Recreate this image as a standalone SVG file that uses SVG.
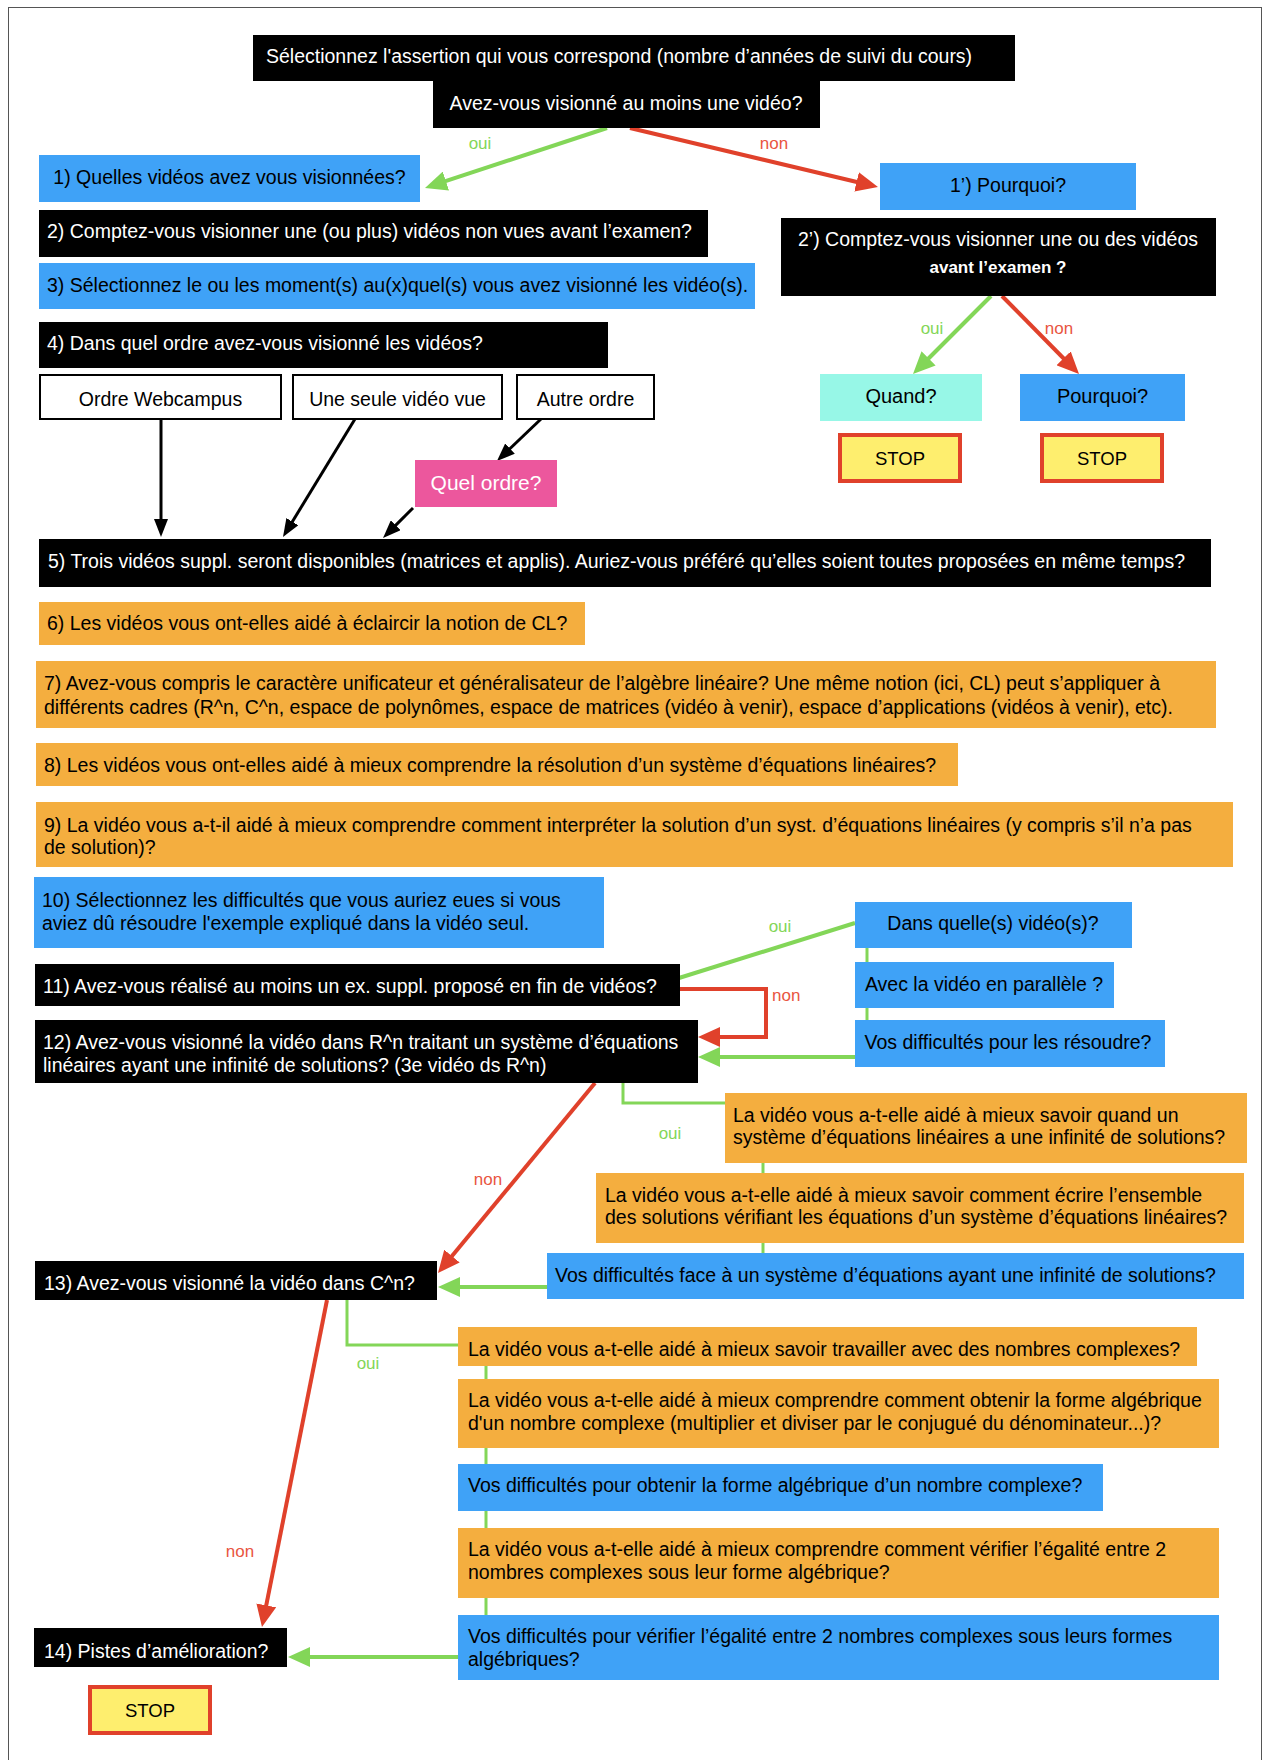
<svg xmlns="http://www.w3.org/2000/svg" width="1264" height="1760" viewBox="0 0 1264 1760">
<style>
text{font-family:"Liberation Sans",Arial,Helvetica,sans-serif;font-size:19.5px;fill:#000}
.w{fill:#fff}
.c{text-anchor:middle}
.blk{fill:#000}
.blu{fill:#3FA2F7}
.org{fill:#F4AE3F}
.mint{fill:#97F7E7}
.pink{fill:#EC579D}
.wb{fill:#fff;stroke:#000;stroke-width:2}
.stop{fill:#FEEE6E;stroke:#E0412B;stroke-width:4}
.g{stroke:#83D658;stroke-width:4;fill:none}
.gt{stroke:#83D658;stroke-width:3;fill:none}
.r{stroke:#E0412B;stroke-width:4;fill:none}
.k{stroke:#000;stroke-width:3;fill:none}
.lg{fill:#83D658;font-size:17px}
.lr{fill:#E9553F;font-size:17px}
</style>
<defs>
<marker id="ag" markerUnits="userSpaceOnUse" markerWidth="22" markerHeight="20" refX="10" refY="10" orient="auto"><path d="M0,0 L22,10 L0,20 z" fill="#83D658"/></marker>
<marker id="ar" markerUnits="userSpaceOnUse" markerWidth="22" markerHeight="20" refX="10" refY="10" orient="auto"><path d="M0,0 L22,10 L0,20 z" fill="#E0412B"/></marker>
<marker id="ak" markerUnits="userSpaceOnUse" markerWidth="18" markerHeight="14" refX="8" refY="7" orient="auto"><path d="M0,0 L18,7 L0,14 z" fill="#000"/></marker>
</defs>
<rect x="0" y="0" width="1264" height="1760" fill="#fff"/>
<rect x="8.5" y="7.5" width="1253" height="1800" fill="none" stroke="#555" stroke-width="1"/>

<g id="connectors">
<line class="g" x1="607" y1="128" x2="436.4" y2="184.2" marker-end="url(#ag)"/>
<line class="r" x1="630" y1="128" x2="866.3" y2="184.2" marker-end="url(#ar)"/>
<line class="g" x1="991" y1="296" x2="921.5" y2="365.5" marker-end="url(#ag)"/>
<line class="r" x1="1002" y1="296" x2="1070.6" y2="365.5" marker-end="url(#ar)"/>
<line class="k" x1="161" y1="419" x2="161" y2="527" marker-end="url(#ak)"/>
<line class="k" x1="355" y1="419" x2="288.2" y2="528.5" marker-end="url(#ak)"/>
<line class="k" x1="541" y1="419" x2="504.2" y2="454.1" marker-end="url(#ak)"/>
<line class="k" x1="413" y1="508" x2="390.1" y2="530.9" marker-end="url(#ak)"/>
<line class="g" x1="679" y1="978" x2="855" y2="923"/>
<line class="gt" x1="867" y1="930" x2="867" y2="1040"/>
<path class="r" d="M679,989 H766 V1037 H710" marker-end="url(#ar)"/>
<line class="g" x1="855" y1="1057" x2="710" y2="1057" marker-end="url(#ag)"/>
<path class="gt" d="M623,1083 V1103 H725"/>
<line class="gt" x1="763" y1="1150" x2="763" y2="1270"/>
<line class="r" x1="595" y1="1083" x2="445.6" y2="1263.8" marker-end="url(#ar)"/>
<line class="g" x1="547" y1="1287" x2="450" y2="1287" marker-end="url(#ag)"/>
<path class="gt" d="M347,1300 V1345 H458"/>
<line class="gt" x1="486" y1="1350" x2="486" y2="1630"/>
<line class="r" x1="327" y1="1300" x2="264.3" y2="1615.2" marker-end="url(#ar)"/>
<line class="g" x1="458" y1="1657" x2="300" y2="1657" marker-end="url(#ag)"/>
<text class="lg c" x="480" y="149">oui</text>
<text class="lr c" x="774" y="149">non</text>
<text class="lg c" x="932" y="334">oui</text>
<text class="lr c" x="1059" y="334">non</text>
<text class="lg c" x="780" y="932">oui</text>
<text class="lr" x="772" y="1001">non</text>
<text class="lg c" x="670" y="1139">oui</text>
<text class="lr c" x="488" y="1185">non</text>
<text class="lg c" x="368" y="1369">oui</text>
<text class="lr c" x="240" y="1557">non</text>
</g>

<g id="n0"><rect class="blk" x="253" y="35" width="762" height="46"/><text class="w" x="266" y="63">Sélectionnez l'assertion qui vous correspond (nombre d’années de suivi du cours)</text></g>
<g id="n1"><rect class="blk" x="433" y="81" width="387" height="47"/><text class="w c" x="626" y="110">Avez-vous visionné au moins une vidéo?</text></g>
<g id="n2"><rect class="blu" x="39" y="155" width="381" height="47"/><text class="c" x="229.5" y="184">1) Quelles vidéos avez vous visionnées?</text></g>
<g id="n3"><rect class="blu" x="880" y="163" width="256" height="47"/><text class="c" x="1008" y="192">1’) Pourquoi?</text></g>
<g id="n4"><rect class="blk" x="39" y="210" width="669" height="47"/><text class="w" x="47" y="238">2) Comptez-vous visionner une (ou plus) vidéos non  vues avant l’examen?</text></g>
<g id="n5"><rect class="blk" x="781" y="218" width="435" height="78"/><text class="w c" x="998" y="246">2’) Comptez-vous visionner une ou des vidéos</text><text class="w c" x="998" y="273" font-weight="bold" style="font-size:17px">avant l’examen ?</text></g>
<g id="n6"><rect class="blu" x="39" y="263" width="716" height="46"/><text x="47" y="292">3) Sélectionnez le ou les moment(s) au(x)quel(s) vous avez visionné les vidéo(s).</text></g>
<g id="n7"><rect class="blk" x="39" y="322" width="569" height="46"/><text class="w" x="47" y="350">4) Dans quel ordre avez-vous visionné les vidéos?</text></g>
<g id="n8"><rect class="wb" x="40" y="375" width="241" height="44"/><text class="c" x="160.5" y="406">Ordre Webcampus</text></g>
<g id="n9"><rect class="wb" x="293" y="375" width="209" height="44"/><text class="c" x="397.5" y="406">Une seule vidéo vue</text></g>
<g id="n10"><rect class="wb" x="517" y="375" width="137" height="44"/><text class="c" x="585.5" y="406">Autre ordre</text></g>
<g id="n11"><rect class="pink" x="415" y="460" width="142" height="47"/><text class="w c" x="486" y="490" style="font-size:21px">Quel ordre?</text></g>
<g id="n12"><rect class="mint" x="820" y="374" width="162" height="47"/><text class="c" x="901" y="403" style="font-size:20px">Quand?</text></g>
<g id="n13"><rect class="blu" x="1020" y="374" width="165" height="47"/><text class="c" x="1102.5" y="403" style="font-size:20px">Pourquoi?</text></g>
<g id="n14"><rect class="stop" x="840" y="435" width="120" height="46"/><text class="c" x="900" y="465" style="font-size:18.5px">STOP</text></g>
<g id="n15"><rect class="stop" x="1042" y="435" width="120" height="46"/><text class="c" x="1102" y="465" style="font-size:18.5px">STOP</text></g>
<g id="n16"><rect class="blk" x="39" y="539" width="1172" height="48"/><text class="w" x="48" y="568">5) Trois vidéos suppl. seront disponibles (matrices et applis). Auriez-vous préféré qu’elles soient toutes proposées en même temps?</text></g>
<g id="n17"><rect class="org" x="39" y="602" width="546" height="43"/><text x="47" y="630">6) Les vidéos vous ont-elles aidé à éclaircir la notion de CL?</text></g>
<g id="n18"><rect class="org" x="36" y="661" width="1180" height="67"/><text x="44" y="690">7) Avez-vous compris le caractère unificateur et généralisateur de l’algèbre linéaire? Une même notion (ici, CL) peut s’appliquer à</text><text x="44" y="714">différents cadres (R^n, C^n, espace de polynômes, espace de matrices (vidéo à venir), espace d’applications (vidéos à venir), etc).</text></g>
<g id="n19"><rect class="org" x="36" y="743" width="922" height="43"/><text x="44" y="772">8) Les vidéos vous ont-elles aidé à mieux comprendre la résolution d’un système d’équations linéaires?</text></g>
<g id="n20"><rect class="org" x="36" y="802" width="1197" height="65"/><text x="44" y="832">9) La vidéo vous a-t-il aidé à mieux comprendre comment interpréter la solution d’un syst. d’équations linéaires (y compris s’il n’a pas</text><text x="44" y="854">de solution)?</text></g>
<g id="n21"><rect class="blu" x="34" y="877" width="570" height="71"/><text x="42" y="907">10) Sélectionnez les difficultés que vous auriez eues si vous</text><text x="42" y="930">aviez dû résoudre l'exemple expliqué dans la vidéo seul.</text></g>
<g id="n22"><rect class="blk" x="35" y="964" width="645" height="42"/><text class="w" x="43" y="993">11) Avez-vous réalisé au moins un ex. suppl. proposé en fin de vidéos?</text></g>
<g id="n23"><rect class="blk" x="35" y="1020" width="663" height="63"/><text class="w" x="43" y="1049">12) Avez-vous visionné la vidéo dans R^n traitant un système d’équations</text><text class="w" x="43" y="1072">linéaires ayant une infinité de solutions? (3e vidéo ds R^n)</text></g>
<g id="n24"><rect class="blu" x="855" y="902" width="277" height="46"/><text class="c" x="993" y="930">Dans quelle(s) vidéo(s)?</text></g>
<g id="n25"><rect class="blu" x="855" y="962" width="259" height="46"/><text class="c" x="984" y="991">Avec la vidéo en parallèle ?</text></g>
<g id="n26"><rect class="blu" x="855" y="1020" width="310" height="47"/><text class="c" x="1008" y="1049">Vos difficultés pour les résoudre?</text></g>
<g id="n27"><rect class="org" x="725" y="1093" width="522" height="70"/><text x="733" y="1122">La vidéo vous a-t-elle aidé à mieux savoir quand un</text><text x="733" y="1144">système d’équations linéaires a une infinité de solutions?</text></g>
<g id="n28"><rect class="org" x="596" y="1173" width="648" height="70"/><text x="605" y="1202">La vidéo vous a-t-elle aidé à mieux savoir comment écrire l’ensemble</text><text x="605" y="1224">des solutions vérifiant les équations d’un système d’équations linéaires?</text></g>
<g id="n29"><rect class="blu" x="547" y="1253" width="697" height="46"/><text x="555" y="1282">Vos difficultés face à un système d’équations ayant une infinité de solutions?</text></g>
<g id="n30"><rect class="blk" x="35" y="1261" width="402" height="39"/><text class="w" x="44" y="1290">13) Avez-vous visionné la vidéo dans C^n?</text></g>
<g id="n31"><rect class="org" x="458" y="1327" width="739" height="39"/><text x="468" y="1356">La vidéo vous a-t-elle aidé à mieux savoir travailler avec des nombres complexes?</text></g>
<g id="n32"><rect class="org" x="458" y="1379" width="761" height="69"/><text x="468" y="1407">La vidéo vous a-t-elle aidé à mieux comprendre comment obtenir la forme algébrique</text><text x="468" y="1430">d'un nombre complexe (multiplier et diviser par le conjugué du dénominateur...)?</text></g>
<g id="n33"><rect class="blu" x="458" y="1464" width="645" height="47"/><text x="468" y="1492">Vos difficultés pour obtenir la forme algébrique d’un nombre complexe?</text></g>
<g id="n34"><rect class="org" x="458" y="1528" width="761" height="70"/><text x="468" y="1556">La vidéo vous a-t-elle aidé à mieux comprendre comment vérifier l’égalité entre 2</text><text x="468" y="1579">nombres complexes sous leur forme algébrique?</text></g>
<g id="n35"><rect class="blu" x="458" y="1615" width="761" height="65"/><text x="468" y="1643">Vos difficultés pour vérifier l’égalité entre 2 nombres complexes sous leurs formes</text><text x="468" y="1666">algébriques?</text></g>
<g id="n36"><rect class="blk" x="34" y="1628" width="253" height="39"/><text class="w" x="44" y="1658">14) Pistes d’amélioration?</text></g>
<g id="n37"><rect class="stop" x="90" y="1687" width="120" height="46"/><text class="c" x="150" y="1717" style="font-size:18.5px">STOP</text></g>
</svg>
